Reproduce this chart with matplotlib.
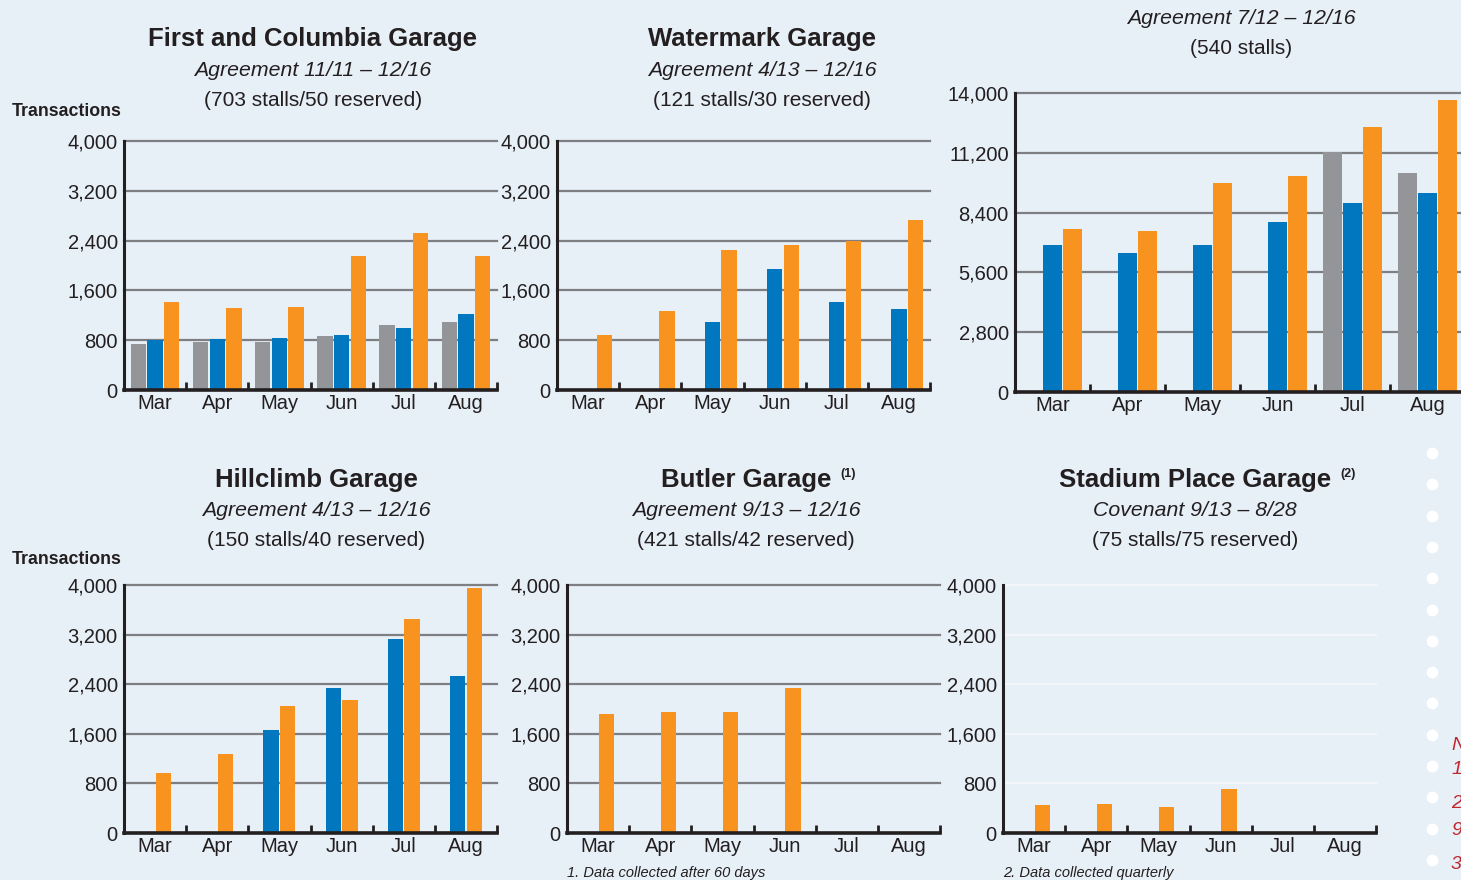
import numpy as np
import matplotlib
matplotlib.use("Agg")
import matplotlib.pyplot as plt
from matplotlib.ticker import FuncFormatter, FixedLocator

plt.rcParams['font.family'] = ['Liberation Sans', 'DejaVu Sans']

BG = '#E7EFF7'
GRAY = '#939598'
BLUE = '#0077BE'
ORANGE = '#F7931E'
DARK = '#231F20'

months = ['Mar', 'Apr', 'May', 'Jun', 'Jul', 'Aug']

# First and Columbia
fc_gray = [740, 770, 770, 865, 1045, 1090]
fc_blue = [805, 820, 835, 885, 995, 1220]
fc_orange = [1415, 1320, 1335, 2150, 2520, 2150]

# Watermark
wm_gray = [0, 0, 0, 0, 0, 0]
wm_blue = [15, 15, 1090, 1945, 1415, 1300]
wm_orange = [885, 1270, 2250, 2330, 2395, 2730]

# top right garage (540 stalls)
tr_gray = [0, 0, 0, 0, 11230, 10250]
tr_blue = [6880, 6500, 6880, 7960, 8850, 9320]
tr_orange = [7630, 7540, 9790, 10110, 12400, 13670]

# Hillclimb
hc_blue = [0, 0, 1660, 2340, 3130, 2530]
hc_orange = [970, 1275, 2050, 2145, 3450, 3950]

# Butler
bt_orange = [1920, 1950, 1950, 2340, 0, 0]

# Stadium Place
sp_orange = [450, 470, 420, 710, 0, 0]

W, H = 1461, 880
fig = plt.figure(figsize=(W / 100, H / 100), dpi=100, facecolor=BG)
renderer = fig.canvas.get_renderer()


def make_ax(x0, x1, ytop, ybot, ymax, step, grid_color='#7D7F82'):
    ax = fig.add_axes([x0 / W, 1 - ybot / H, (x1 - x0) / W, (ybot - ytop) / H])
    ax.set_facecolor(BG)
    ax.set_xlim(-0.5, 5.5)
    ax.set_ylim(0, ymax)
    ticks = np.arange(0, ymax + 1, step)
    ax.set_yticks(ticks)
    ax.yaxis.set_major_formatter(FuncFormatter(lambda v, p: f'{int(v):,}'))
    for t in ticks[1:]:
        ax.axhline(t, color=grid_color, lw=1.6, zorder=0, clip_on=False)
    for s in ['top', 'right']:
        ax.spines[s].set_visible(False)
    ax.spines['left'].set_color(DARK)
    ax.spines['left'].set_linewidth(2.2)
    ax.spines['bottom'].set_color(DARK)
    ax.spines['bottom'].set_linewidth(2.6)
    ax.set_xticks(range(6))
    ax.set_xticklabels(months, fontsize=14.5, color=DARK)
    ax.xaxis.set_minor_locator(FixedLocator(np.arange(0.5, 5.6, 1)))
    ax.tick_params(axis='x', which='major', length=0, pad=3)
    ax.tick_params(axis='x', which='minor', direction='in', length=6, width=2, color=DARK)
    ax.tick_params(axis='y', length=0, labelsize=14.5, labelcolor=DARK, pad=4.5)
    return ax


def bars(ax, series):
    x = np.arange(6)
    n = len(series)
    w = 0.245
    off = 0.268
    for i, (vals, col) in enumerate(series):
        ax.bar(x + (i - (n - 1) / 2) * off, vals, width=w, color=col, zorder=2)


def titles(cx, y, name, sub, stalls, sup=None):
    t = fig.text(cx / W, 1 - y / H, name, ha='center', va='center', fontsize=18.5,
                 fontweight='bold', color=DARK)
    if sup:
        bb = t.get_window_extent(renderer)
        fig.text((bb.x1 + 9) / W, 1 - (y - 6) / H, sup, ha='left',
                 va='center', fontsize=9, fontweight='bold', color=DARK)
    fig.text(cx / W, 1 - (y + 31) / H, sub, ha='center', va='center', fontsize=15.3,
             style='italic', color=DARK)
    fig.text(cx / W, 1 - (y + 61) / H, stalls, ha='center', va='center', fontsize=15,
             color=DARK)


# top row
ax1 = make_ax(124, 497, 141, 390, 4000, 800)
bars(ax1, [(fc_gray, GRAY), (fc_blue, BLUE), (fc_orange, ORANGE)])
titles(313, 39, 'First and Columbia Garage', 'Agreement 11/11 – 12/16', '(703 stalls/50 reserved)')

ax2 = make_ax(557, 930, 141, 390, 4000, 800)
bars(ax2, [(wm_gray, GRAY), (wm_blue, BLUE), (wm_orange, ORANGE)])
titles(762, 39, 'Watermark Garage', 'Agreement 4/13 – 12/16', '(121 stalls/30 reserved)')

ax3 = make_ax(1015, 1465, 93, 392, 14000, 2800)
bars(ax3, [(tr_gray, GRAY), (tr_blue, BLUE), (tr_orange, ORANGE)])
fig.text(1241 / W, 1 - 18 / H, 'Agreement 7/12 – 12/16', ha='center', va='center',
         fontsize=15.3, style='italic', color=DARK)
fig.text(1241 / W, 1 - 48 / H, '(540 stalls)', ha='center', va='center', fontsize=15,
         color=DARK)

# bottom row
ax4 = make_ax(124, 497, 585, 833, 4000, 800)
bars(ax4, [(hc_blue, BLUE), (hc_orange, ORANGE)])
titles(316, 480, 'Hillclimb Garage', 'Agreement 4/13 – 12/16', '(150 stalls/40 reserved)')

ax5 = make_ax(567, 940, 585, 833, 4000, 800)
bars(ax5, [(np.zeros(6), BLUE), (bt_orange, ORANGE)])
titles(746, 480, 'Butler Garage', 'Agreement 9/13 – 12/16', '(421 stalls/42 reserved)',
       sup='(1)')

ax6 = make_ax(1003, 1376, 585, 833, 4000, 800, grid_color='#F3F6FA')
bars(ax6, [(np.zeros(6), BLUE), (sp_orange, ORANGE)])
titles(1195, 480, 'Stadium Place Garage', 'Covenant 9/13 – 8/28', '(75 stalls/75 reserved)',
       sup='(2)')

for y in [111, 559]:
    fig.text(12 / W, 1 - y / H, 'Transactions', ha='left', va='center', fontsize=12.8,
             fontweight='bold', color=DARK)

fig.text(567 / W, 1 - 873 / H, '1. Data collected after 60 days', ha='left', va='center',
         fontsize=10.5, style='italic', color=DARK)
fig.text(1003 / W, 1 - 873 / H, '2. Data collected quarterly', ha='left', va='center',
         fontsize=10.5, style='italic', color=DARK)

# dotted divider and clipped notes at the right edge
dot_y = np.arange(453, 880, 31.3)
fig.add_artist(plt.Line2D([1432 / W] * len(dot_y), 1 - dot_y / H, ls='none', marker='o',
                          ms=7.5, color='white', transform=fig.transFigure))
for ch, y in [('N', 745), ('1', 769), ('2', 803), ('9', 830), ('3', 864)]:
    fig.text(1451 / W, 1 - y / H, ch, ha='left', va='center', fontsize=14, style='italic',
             color='#C1272D')

fig.savefig('out.png', dpi=100, facecolor=BG)
